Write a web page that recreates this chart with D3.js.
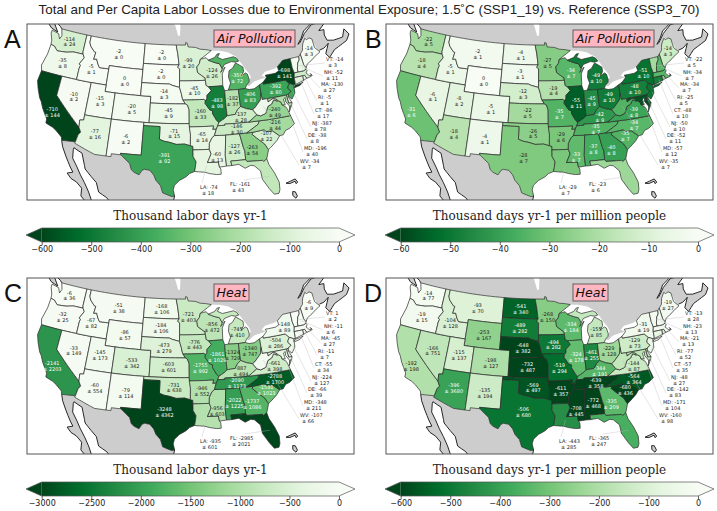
<!DOCTYPE html>
<html><head><meta charset="utf-8">
<script src="https://cdn.jsdelivr.net/npm/d3@7/dist/d3.min.js"></script>
<style>html,body{margin:0;padding:0;background:#fff}svg{display:block}</style>
</head><body><svg id="c" width="717" height="511"></svg>
<script>
const stateCodes = ["WA","OR","CA","NV","ID","MT","WY","UT","CO","AZ","NM","ND","SD","NE","KS","OK","TX","MN","IA","MO","AR","LA","WI","IL","MS","MI","IN","OH","KY","TN","AL","GA","FL","SC","NC","VA","PA","NY","ME","VT","NH","MA","RI","CT","NJ","DE","MD","WV"];
const airTotal =      [-114,-35,-710,-10,-5,-2,0,-15,-20,-77,-6,-2,-2,-14,-45,-71,-391,-99,-45,-160,-65,-74,-124,-483,-60,-350,-182,-406,-137,-146,-127,-263,-161,-107,-216,-240,-392,-698,-14,-14,-52,-130,-5,-86,-387,-38,-196,-34];
const airTotalErr =   [24,8,144,2,1,0,0,3,5,16,2,0,0,3,9,15,92,20,10,33,14,18,26,98,13,72,37,83,28,30,26,54,43,22,44,49,80,141,3,3,11,27,1,17,78,8,40,7];
const airPerCap =     [-22,-18,-31,-6,-5,-2,0,-8,-5,-18,-4,-4,-3,-12,-22,-26,-28,-27,-19,-35,-29,-29,-34,-55,-33,-49,-45,-49,-42,-35,-37,-40,-23,-35,-34,-39,-48,-51,-14,-22,-34,-34,-25,-48,-50,-52,-57,-35];
const airPerCapErr =  [5,4,6,1,1,1,0,2,1,4,1,1,1,3,5,5,7,5,4,7,6,7,7,11,7,10,9,10,9,7,8,8,6,7,7,8,10,10,3,5,7,7,5,10,10,11,12,7];
const heatTotal =     [-6,-32,-2141,-33,-67,-51,-86,-145,-533,-60,-79,-168,-184,-473,-603,-731,-3248,-721,-776,-1755,-946,-935,-856,-1861,-956,-745,-1324,-1340,-887,-2090,-2022,-1737,-2985,-1591,-2788,-661,-504,-148,-6,1,-11,-45,-11,-55,-224,-66,-348,-107];
const heatTotalErr =  [36,25,2203,149,82,38,57,173,342,554,114,106,106,279,601,638,4362,403,443,992,552,601,472,1029,603,410,729,747,494,1173,1225,1086,2021,1023,1700,398,286,89,9,2,6,27,7,34,127,39,211,66];
const heatPerCap =    [-14,-19,-192,-166,-104,-93,-253,-115,-198,-396,-135,-541,-489,-648,-732,-569,-506,-268,-494,-519,-611,-443,-334,-324,-708,-155,-461,-229,-344,-639,-772,-335,-365,-680,-564,-144,-129,-31,-19,-13,-23,-21,-77,-57,-48,-142,-171,-160];
const heatPerCapErr = [77,15,198,751,128,70,167,137,127,3680,194,340,282,382,487,497,680,150,282,294,357,285,184,178,445,85,255,128,191,358,468,209,247,436,364,87,73,19,27,28,13,13,52,35,27,83,104,98];
const totalTicksAir = [-600,-500,-400,-300,-200,-100,0];
const perCapTicksAir = [-60,-50,-40,-30,-20,-10,0];
const totalTicksHeat = [-3000,-2500,-2000,-1500,-1000,-500,0];
const perCapTicksHeat = [-600,-500,-400,-300,-200,-100,0];
const greens = ["#00441b","#006d2c","#238b45","#41ab5d","#74c476","#a1d99b","#c7e9c0","#e5f5e0","#f7fcf5"];
const mainTitle = "Total and Per Capita Labor Losses due to Environmental Exposure; 1.5˚C (SSP1_19) vs. Reference (SSP3_70)";

// state outlines, lon/lat
const stateShapes = {
WA:[[[-124.7,48.4],[-123.1,48.15],[-122.6,47.4],[-122.3,48.0],[-122.75,49],[-117.03,49],[-117.04,46.4],[-116.92,46],[-118.98,46],[-119.3,45.93],[-120.5,45.7],[-121.2,45.65],[-122.3,45.55],[-122.8,45.85],[-123.2,46.15],[-124,46.25],[-124.1,46.9],[-124.7,47.9]]],
OR:[[[-124.55,42.84],[-124.2,42],[-120,42],[-117.03,42],[-117.03,43.8],[-116.9,44.2],[-117.2,44.45],[-116.5,45.5],[-116.92,46],[-118.98,46],[-119.3,45.93],[-120.5,45.7],[-121.2,45.65],[-122.3,45.55],[-122.8,45.85],[-123.2,46.15],[-124,46.25],[-124.07,44.7]]],
CA:[[[-124.2,42],[-120,42],[-120,39],[-114.63,35],[-114.15,34.3],[-114.5,33.9],[-114.72,32.72],[-117.12,32.53],[-117.3,33],[-118.4,33.75],[-119.2,34.15],[-120.6,34.55],[-120.65,35.15],[-121.9,36.6],[-122.5,37.5],[-123,38],[-123.8,39.3],[-124.35,40.4]]],
NV:[[[-120,42],[-114.04,42],[-114.05,36.2],[-114.75,36.1],[-114.63,35],[-120,39]]],
ID:[[[-117.03,49],[-116.05,49],[-116.05,48],[-115.7,47.45],[-114.7,46.7],[-114.35,46.65],[-114.5,45.55],[-113.9,45.65],[-113.45,44.95],[-113,44.45],[-111.05,44.48],[-111.05,42],[-114.04,42],[-117.03,42],[-117.03,43.8],[-116.9,44.2],[-117.2,44.45],[-116.5,45.5],[-116.92,46],[-117.04,46.4]]],
MT:[[[-116.05,49],[-104.05,49],[-104.05,45],[-111.05,45],[-111.05,44.48],[-113,44.45],[-113.45,44.95],[-113.9,45.65],[-114.5,45.55],[-114.35,46.65],[-114.7,46.7],[-115.7,47.45],[-116.05,48]]],
WY:[[[-111.05,45],[-104.05,45],[-104.05,41],[-111.05,41]]],
UT:[[[-114.04,42],[-111.05,42],[-111.05,41],[-109.05,41],[-109.05,37],[-114.05,37]]],
CO:[[[-109.05,41],[-102.05,41],[-102.05,37],[-109.05,37]]],
AZ:[[[-114.05,37],[-109.05,37],[-109.05,31.33],[-111.07,31.33],[-114.8,32.5],[-114.72,32.72],[-114.5,33.9],[-114.15,34.3],[-114.63,35],[-114.75,36.1],[-114.05,36.2]]],
NM:[[[-109.05,37],[-103,37],[-103.04,32],[-106.62,32],[-106.53,31.78],[-108.2,31.78],[-108.2,31.33],[-109.05,31.33]]],
ND:[[[-104.05,49],[-97.23,49],[-96.85,47.6],[-96.56,45.94],[-104.05,45.94]]],
SD:[[[-104.05,45.94],[-96.56,45.94],[-96.85,45.6],[-96.45,45.3],[-96.45,43.5],[-96.45,42.5],[-97.9,42.8],[-98.5,43],[-104.05,43]]],
NE:[[[-104.05,43],[-98.5,43],[-97.9,42.8],[-96.45,42.5],[-96.1,41.6],[-95.85,40.7],[-95.3,40],[-102.05,40],[-102.05,41],[-104.05,41]]],
KS:[[[-102.05,40],[-95.3,40],[-94.9,39.8],[-94.6,39.1],[-94.62,37],[-102.05,37]]],
OK:[[[-103,37],[-94.62,37],[-94.43,35.4],[-94.48,33.64],[-95.5,33.9],[-97,33.85],[-98.1,34.13],[-99.2,34.3],[-100,34.56],[-100,36.5],[-103,36.5]]],
TX:[[[-103.04,36.5],[-100,36.5],[-100,34.56],[-99.2,34.3],[-98.1,34.13],[-97,33.85],[-95.5,33.9],[-94.48,33.64],[-94.04,33.55],[-94.04,33],[-94.04,31.99],[-93.55,31.2],[-93.7,30.3],[-93.85,29.7],[-94.7,29.4],[-95.3,28.9],[-96.4,28.35],[-97.2,27.6],[-97.4,26.9],[-97.15,25.95],[-97.6,25.85],[-98.3,26.1],[-99.1,26.4],[-99.5,27.5],[-100.3,28.3],[-100.7,29.1],[-101.4,29.77],[-102.3,29.88],[-102.7,29.7],[-103.15,28.98],[-104,29.3],[-104.5,29.65],[-104.9,30.6],[-106.53,31.78],[-106.62,32],[-103.04,32]]],
MN:[[[-97.23,49],[-95.15,49],[-95.15,49.38],[-94.8,49.3],[-94.6,48.7],[-93,48.6],[-92,48.3],[-90.8,48.2],[-89.6,48],[-92.05,46.75],[-92.3,46.1],[-92.85,45.6],[-92.75,44.75],[-91.25,43.85],[-91.22,43.5],[-96.45,43.5],[-96.45,45.3],[-96.85,45.6],[-96.56,45.94],[-96.85,47.6]]],
IA:[[[-96.45,43.5],[-91.22,43.5],[-91.1,42.7],[-90.65,42.5],[-90.15,41.9],[-91.05,41.2],[-91.1,40.7],[-91.42,40.38],[-91.73,40.61],[-95.77,40.58],[-95.85,40.7],[-96.1,41.6],[-96.45,42.5]]],
MO:[[[-95.77,40.58],[-91.73,40.61],[-91.42,40.38],[-91.5,40],[-90.7,39],[-90.15,38.8],[-90.2,38.4],[-89.5,37.3],[-89.15,37],[-89.4,36.5],[-89.7,36],[-90.37,36],[-90.15,36.5],[-94.62,36.5],[-94.62,37],[-94.6,39.1],[-94.9,39.8],[-95.3,40]]],
AR:[[[-94.62,36.5],[-90.15,36.5],[-90.37,36],[-89.7,36],[-90.1,35.1],[-90.6,34.7],[-91.1,33.9],[-91.17,33],[-94.04,33],[-94.04,33.55],[-94.48,33.64],[-94.43,35.4]]],
LA:[[[-94.04,33],[-91.17,33],[-90.9,32.3],[-91.6,31],[-89.73,31],[-89.6,30.2],[-89.4,29.9],[-89.4,29.1],[-90.2,29.1],[-91.3,29.3],[-92.2,29.55],[-93.85,29.7],[-93.7,30.3],[-93.55,31.2],[-94.04,31.99]]],
MS:[[[-90.1,35.05],[-88.2,35],[-88.1,34.9],[-88.47,31.9],[-88.4,30.3],[-89.6,30.2],[-89.73,31],[-91.6,31],[-90.9,32.3],[-91.17,33],[-91.1,33.9],[-90.6,34.7]]],
AL:[[[-88.2,35],[-85.6,35],[-85.18,32.87],[-85,32.3],[-85.05,31],[-87.6,31],[-87.5,30.3],[-88.4,30.3],[-88.47,31.9],[-88.1,34.9]]],
TN:[[[-90.1,35.05],[-88.2,35],[-85.6,35],[-84.32,35],[-82,36.1],[-81.68,36.59],[-83.68,36.6],[-86.5,36.65],[-88.07,36.68],[-88.07,36.5],[-89.4,36.5],[-89.7,36]]],
KY:[[[-89.4,36.5],[-88.07,36.5],[-88.07,36.68],[-86.5,36.65],[-83.68,36.6],[-81.97,37.54],[-82.6,38.4],[-83.7,38.65],[-84.8,39.1],[-85.4,38.7],[-86,38],[-87.5,37.9],[-88.1,37.5],[-89.15,37]]],
VA:[[[-83.68,36.6],[-81.68,36.59],[-80,36.55],[-75.87,36.55],[-76,37],[-76.3,37.9],[-77,38.4],[-77.05,38.8],[-77.5,39.1],[-77.83,39.13],[-78.35,39.4],[-78.9,38.8],[-79.65,38.55],[-80.3,37.55],[-81.3,37.3],[-81.97,37.54]],[[-75.65,37.95],[-75.25,38.03],[-75.95,37.15]]],
WV:[[[-82.6,38.4],[-81.97,37.54],[-81.3,37.3],[-80.3,37.55],[-79.65,38.55],[-78.9,38.8],[-78.35,39.4],[-77.83,39.13],[-77.72,39.32],[-78.4,39.62],[-79.48,39.2],[-79.48,39.72],[-80.52,39.72],[-80.52,40.64],[-80.85,39.7],[-81.7,39],[-82.2,38.6]]],
NC:[[[-84.32,35],[-83.1,35],[-81.05,35.15],[-80.8,34.82],[-79.67,34.8],[-78.55,33.86],[-77.9,33.9],[-77.3,34.5],[-76.5,34.7],[-75.5,35.25],[-75.87,36.55],[-80,36.55],[-81.68,36.59],[-82,36.1]]],
SC:[[[-83.1,35],[-81.05,35.15],[-80.8,34.82],[-79.67,34.8],[-78.55,33.86],[-79.2,33.2],[-80.5,32.3],[-80.9,32.05],[-81.4,33],[-82,33.5],[-83.35,34.7]]],
GA:[[[-85.6,35],[-84.32,35],[-83.1,35],[-83.35,34.7],[-82,33.5],[-81.4,33],[-80.9,32.05],[-81.45,30.72],[-82.05,30.36],[-82.2,30.57],[-84.86,30.7],[-85.05,31],[-85,32.3],[-85.18,32.87]]],
FL:[[[-87.6,31],[-85.05,31],[-84.86,30.7],[-82.2,30.57],[-82.05,30.36],[-81.45,30.72],[-81.25,29.8],[-80.55,28.4],[-80.05,26.9],[-80.15,25.75],[-80.4,25.2],[-81.15,25.15],[-81.8,26.1],[-82.7,27.7],[-82.8,29],[-83.7,29.9],[-84.3,30.05],[-85.3,29.7],[-86.3,30.4],[-87.5,30.3]]],
OH:[[[-84.8,39.1],[-83.7,38.65],[-82.6,38.4],[-82.2,38.6],[-81.7,39],[-80.85,39.7],[-80.52,40.64],[-80.52,41.98],[-81.7,41.5],[-82.7,41.5],[-83.45,41.72],[-84.8,41.7]]],
IN:[[[-87.53,41.72],[-86.8,41.76],[-84.8,41.7],[-84.8,39.1],[-85.4,38.7],[-86,38],[-87.5,37.9],[-87.55,39.3]]],
IL:[[[-87.8,42.49],[-90.65,42.5],[-90.15,41.9],[-91.05,41.2],[-91.1,40.7],[-91.42,40.38],[-91.5,40],[-90.7,39],[-90.15,38.8],[-90.2,38.4],[-89.5,37.3],[-89.15,37],[-88.1,37.5],[-87.5,37.9],[-87.55,39.3],[-87.53,41.72]]],
WI:[[[-92.05,46.75],[-90.8,46.95],[-90.4,46.55],[-89,46.1],[-88.1,45.9],[-87.6,45.1],[-88,44.55],[-87,45.3],[-87.7,44.3],[-87.8,42.49],[-90.65,42.5],[-91.1,42.7],[-91.22,43.5],[-91.25,43.85],[-92.75,44.75],[-92.85,45.6],[-92.3,46.1]]],
MI:[[[-90.4,46.55],[-89,46.9],[-88.4,47.4],[-87.9,47.45],[-88.4,46.9],[-87.4,46.5],[-85,46.75],[-84.4,46.5],[-84,46],[-84.75,45.9],[-85.5,46.05],[-86.5,45.85],[-87.1,45.7],[-87.6,45.1],[-88.1,45.9],[-89,46.1]],[[-86.8,41.76],[-84.8,41.7],[-83.45,41.72],[-83.1,42.2],[-82.5,42.6],[-82.4,43],[-82.6,43.85],[-82.95,44.07],[-83.9,43.7],[-83.3,44.3],[-83.3,45],[-84.7,45.78],[-85.5,45],[-86.25,44.7],[-86.5,43.7],[-86.2,42.8]]],
PA:[[[-80.52,41.98],[-79.76,42.27],[-79.76,42],[-75.35,42],[-74.7,41.36],[-75.1,40.95],[-75.2,40.65],[-74.72,40.15],[-75.4,39.8],[-75.79,39.72],[-79.48,39.72],[-80.52,39.72],[-80.52,40.64]]],
NY:[[[-79.76,42.27],[-78.9,42.9],[-79.05,43.27],[-77,43.3],[-76.2,43.55],[-76.3,44.2],[-75,44.98],[-74.7,45],[-73.34,45.01],[-73.4,43.6],[-73.25,42.75],[-73.5,42.05],[-73.55,41.3],[-73.65,41],[-73.9,41],[-74.7,41.36],[-75.35,42],[-79.76,42]],[[-74,40.6],[-73.7,40.88],[-72.6,40.98],[-72,41.1],[-72.8,40.7],[-73.9,40.55]]],
ME:[[[-71.08,45.3],[-70.4,45.8],[-70.25,46.2],[-70,46.7],[-69.23,47.46],[-68.9,47.2],[-68.3,47.35],[-67.8,47.07],[-67.8,45.7],[-67.45,45.3],[-67,44.85],[-68.5,44.3],[-69.1,44],[-70.2,43.6],[-70.7,43.07],[-71,43.6]]],
VT:[[[-73.34,45.01],[-71.5,45.01],[-71.6,44.5],[-72.05,44.1],[-72.45,43.2],[-72.46,42.73],[-73.25,42.75],[-73.4,43.6]]],
NH:[[[-71.5,45.01],[-71.08,45.3],[-71,43.6],[-70.7,43.07],[-70.8,42.87],[-71.3,42.7],[-72.46,42.73],[-72.45,43.2],[-72.05,44.1],[-71.6,44.5]]],
MA:[[[-73.5,42.05],[-73.25,42.75],[-72.46,42.73],[-71.3,42.7],[-70.8,42.87],[-70.65,42.6],[-71,42.3],[-70.6,41.95],[-70.5,41.78],[-70,41.78],[-70.2,42.07],[-69.95,41.7],[-70.6,41.55],[-71.15,41.5],[-71.38,42.02],[-71.8,42.02]]],
RI:[[[-71.8,42.02],[-71.38,42.02],[-71.15,41.5],[-71.85,41.32]]],
CT:[[[-73.5,42.05],[-71.8,42.02],[-71.85,41.32],[-73.65,41],[-73.55,41.3]]],
NJ:[[[-74.7,41.36],[-73.9,41],[-74.05,40.65],[-74,40.4],[-74.1,39.75],[-74.9,38.95],[-75.5,39.5],[-75.4,39.8],[-74.72,40.15],[-75.2,40.65],[-75.1,40.95]]],
DE:[[[-75.79,39.72],[-75.4,39.8],[-75.55,39.45],[-75.05,38.45],[-75.7,38.46]]],
MD:[[[-79.48,39.72],[-75.79,39.72],[-75.7,38.46],[-75.05,38.45],[-75.25,38.03],[-75.65,37.95],[-76.2,38.8],[-76.1,39.4],[-76.5,39.2],[-76.4,38.3],[-77,38.4],[-77.05,38.8],[-77.5,39.1],[-77.83,39.13],[-77.72,39.32],[-78.4,39.62],[-79.48,39.2]]]
};
const canadaLand = [[-122.75,49],[-95.15,49],[-95.15,49.38],[-94.8,49.3],[-94.6,48.7],[-93,48.6],[-92,48.3],[-90.8,48.2],[-89.6,48],[-88,47.9],[-86,47.5],[-85,47],[-84.5,46.8],[-83.6,45.7],[-82.9,44.7],[-82.3,44],[-82,43.3],[-82.4,43],[-82.5,42.6],[-83.1,42.2],[-82.6,42],[-81.5,42.6],[-80,42.8],[-78.9,42.9],[-79.8,43.3],[-79,43.8],[-77,44],[-76.3,44.2],[-75,44.98],[-74.7,45],[-71.5,45.01],[-70.4,45.8],[-70,46.7],[-69.23,47.46],[-67.8,47.07],[-67.45,45.3],[-67,45.1],[-66,45.2],[-64.8,45.7],[-66,44.3],[-65.5,43.6],[-64,44.5],[-61,45.2],[-60,46],[-60.6,47],[-61.5,45.9],[-63.5,45.9],[-64.8,46.2],[-65,47.1],[-64.7,47.9],[-65.8,48],[-64.2,48.8],[-65,49.2],[-67,49.2],[-69,48.2],[-70.5,47],[-71,46.85],[-70,47.6],[-69,48.6],[-67,49.4],[-66,50.2],[-63,50.3],[-60,50.2],[-57,51.5],[-55.5,53],[-55,60],[-135,60],[-130,54],[-128,52],[-125,50],[-123.2,49.3]];
const vancouverIsland = [[-123.4,48.35],[-125,48.7],[-128.3,50.7],[-125.5,50.3]];
const newfoundland = [[-59.3,47.6],[-57,47.6],[-53,46.7],[-52.7,47.6],[-55.5,51.5],[-57.5,50.5]];
const mexicoLand = [[-117.12,32.53],[-114.72,32.72],[-114.8,32.5],[-111.07,31.33],[-109.05,31.33],[-108.2,31.33],[-108.2,31.78],[-106.53,31.78],[-104.9,30.6],[-104.5,29.65],[-104,29.3],[-103.15,28.98],[-102.7,29.7],[-102.3,29.88],[-101.4,29.77],[-100.7,29.1],[-100.3,28.3],[-99.5,27.5],[-99.1,26.4],[-98.3,26.1],[-97.6,25.85],[-97.15,25.95],[-97.6,24],[-97.8,22.3],[-97,20],[-105.5,20],[-106,23],[-108,25],[-109.4,25.7],[-110,27.1],[-111,27.9],[-112.2,28.9],[-112.4,29.4],[-113.2,31.2],[-114.75,31.8],[-114.8,31.5],[-114.6,30.2],[-113.6,29],[-112.8,27.9],[-111.9,26.8],[-111,25.5],[-110.3,24.2],[-109.5,23.2],[-110,22.9],[-112.1,24.7],[-112.2,25.9],[-113.2,26.7],[-114.2,27.1],[-115,27.8],[-114.1,28.1],[-114.7,28.8],[-115.8,30.3],[-116.7,31.6]];
const bahamas = [[[-79,26.55],[-78.2,26.75],[-77.4,26.95],[-77.1,26.4],[-77.4,26.2],[-77.5,26.6],[-78.4,26.4]],[[-78.2,25.1],[-77.8,25],[-77.6,24.3],[-77.9,24],[-78.3,24.5]]];
const lakeWinnipeg = [[-99,53.8],[-97.5,52],[-96.8,50.4],[-96.4,50.5],[-96.3,52],[-97,54]];
const coastLines = [
 [[-122.75,49],[-123.2,49.3],[-125,50],[-128,52],[-130,54]],
 [[-71,46.85],[-70,47.6],[-69,48.6],[-67,49.4],[-66,50.2],[-63,50.3],[-60,50.2],[-57,51.5],[-55.5,53]],
 [[-71,46.85],[-70.5,47],[-69,48.2],[-67,49.2],[-65,49.2],[-64.2,48.8],[-65.8,48],[-64.7,47.9],[-65,47.1],[-64.8,46.2],[-63.5,45.9],[-61.5,45.9],[-60.6,47],[-60,46],[-61,45.2],[-64,44.5],[-65.5,43.6],[-66,44.3],[-64.8,45.7],[-66,45.2],[-67,45.1]],
 [[-117.12,32.53],[-116.7,31.6],[-115.8,30.3],[-114.7,28.8],[-114.1,28.1],[-115,27.8],[-114.2,27.1],[-113.2,26.7],[-112.2,25.9],[-112.1,24.7],[-110,22.9],[-109.5,23.2],[-110.3,24.2],[-111,25.5],[-111.9,26.8],[-112.8,27.9],[-113.6,29],[-114.6,30.2],[-114.8,31.5],[-114.75,31.8],[-113.2,31.2],[-112.4,29.4],[-112.2,28.9],[-111,27.9],[-110,27.1],[-109.4,25.7],[-108,25],[-106,23]],
 [[-97.15,25.95],[-97.6,24],[-97.8,22.3]]
];
const labelSpots = {WA:[-120.4,47.4],OR:[-120.6,44],CA:[-120,36.4],NV:[-116.8,39.4],ID:[-114.6,44],MT:[-109.5,47],WY:[-107.5,43],UT:[-111.7,39.4],CO:[-105.5,38.9],AZ:[-111.6,34.4],NM:[-106,34.3],ND:[-100.3,47.4],SD:[-100.3,44.5],NE:[-99.5,41.4],KS:[-98.5,38.6],OK:[-97.4,35.5],TX:[-99,31.7],MN:[-94.6,46.2],IA:[-93.5,42],MO:[-92.5,38.4],AR:[-92.4,34.9],WI:[-89.8,44.5],IL:[-89.2,40],MS:[-89.9,31.7],MI:[-84.8,43.4],IN:[-86.2,40],OH:[-82.8,40.3],KY:[-85,37.5],TN:[-86,35.8],AL:[-86.8,32.8],GA:[-83.7,32.4],SC:[-80.9,34.1],NC:[-79,35.6],VA:[-78.6,37.5],PA:[-77.6,40.9],NY:[-75.2,43],ME:[-69.2,45.4]};
const sideLabels = {VT:[299,35],NH:[297,48],MA:[294,60],RI:[291,73],CT:[288,86],NJ:[285,99],DE:[281,111],MD:[277,124],WV:[273,137],LA:[173,163],FL:[203,160]};
const sideAnchors = {VT:[-72.4,43.7],NH:[-71.5,43.4],MA:[-71,42.3],RI:[-71.5,41.7],CT:[-72.5,41.6],NJ:[-74.4,40],DE:[-75.5,39],MD:[-76.5,39],WV:[-80.5,38.7],LA:[-91.8,30.5],FL:[-81.4,28]};

const panels = [
 {letter:"A",x:27,y:24,lx:4,tag:"Air Pollution",vals:airTotal,errs:airTotalErr,ticks:totalTicksAir,cbTitle:"Thousand labor days yr-1"},
 {letter:"B",x:386,y:24,lx:365,tag:"Air Pollution",vals:airPerCap,errs:airPerCapErr,ticks:perCapTicksAir,cbTitle:"Thousand days yr-1 per million people"},
 {letter:"C",x:27,y:278,lx:4,tag:"Heat",vals:heatTotal,errs:heatTotalErr,ticks:totalTicksHeat,cbTitle:"Thousand labor days yr-1"},
 {letter:"D",x:386,y:278,lx:364,tag:"Heat",vals:heatPerCap,errs:heatPerCapErr,ticks:perCapTicksHeat,cbTitle:"Thousand days yr-1 per million people"}
];
const boxW=327, boxH=176;
const sans="'Liberation Sans',Arial,sans-serif", dv="'DejaVu Sans',sans-serif", serif="'DejaVu Serif',serif";

const base = d3.geoConicEqualArea().rotate([96,0]).parallels([29.5,45.5]).scale(1).translate([0,0]);
const ctl = {w:base([-117.03,49]), e:base([-67,44.85]), s:base([-97.15,25.95])};
const sx = d3.scaleLinear().domain([ctl.w[0],ctl.e[0]]).range([60,293]);
const sy = d3.scaleLinear().domain([ctl.w[1],ctl.s[1]]).range([11,172]);
const pt = ll => { const q=base(ll); return [sx(q[0]),sy(q[1])]; };
const path = d3.geoPath(d3.geoTransform({point(x,y){const q=pt([x,y]);this.stream.point(q[0],q[1]);}}));
function densify(line,closed){
  const out=[]; const n=line.length; const m=closed?n:n-1;
  for(let i=0;i<m;i++){const a=line[i],b=line[(i+1)%n];const k=Math.max(1,Math.ceil(Math.abs(a[0]-b[0])));
    for(let j=0;j<k;j++) out.push([a[0]+(b[0]-a[0])*j/k,a[1]+(b[1]-a[1])*j/k]);}
  if(closed) out.push(out[0]); else out.push(line[n-1]);
  return out;
}
const poly = rings => ({type:"MultiPolygon",coordinates:rings.map(r=>[densify(r,true)])});
const lines = ls => ({type:"MultiLineString",coordinates:ls.map(l=>densify(l,false))});

const svg=d3.select("#c");
svg.append("defs").append("clipPath").attr("id","mapclip").append("rect").attr("width",boxW).attr("height",boxH);
svg.append("text").attr("x",369).attr("y",14).attr("text-anchor","middle").attr("font-family",sans).attr("font-size",13.4).attr("fill","#222").text(mainTitle);

panels.forEach((p,pi)=>{
  const colorDomain=d3.range(9).map(i=>p.ticks[0]*(1-i/8));
  const color=d3.scaleLinear().domain(colorDomain).range(greens).clamp(true);
  const g=svg.append("g").attr("transform",`translate(${p.x},${p.y})`);
  const map=g.append("g").attr("clip-path","url(#mapclip)");
  const gray="#cdcdcd";
  map.append("path").attr("d",path(poly([canadaLand,mexicoLand,vancouverIsland,newfoundland]))).attr("fill",gray);
  map.append("path").attr("d",path(poly([lakeWinnipeg]))).attr("fill","#fff");
  map.append("path").attr("d",path(lines(coastLines))).attr("fill","none").attr("stroke","#111").attr("stroke-width",0.9);
  map.append("path").attr("d",path(poly([vancouverIsland,...bahamas]))).attr("fill",gray).attr("stroke","#111").attr("stroke-width",0.9);
  map.selectAll("path.st").data(stateCodes).join("path").attr("class","st")
    .attr("d",s=>path(poly(stateShapes[s])))
    .attr("fill",(s,i)=>color(p.vals[i])).attr("stroke","#2a2a2a").attr("stroke-width",0.7).attr("stroke-linejoin","round");
  // leader lines
  const sideKeys=Object.keys(sideLabels);
  map.selectAll("line.ld").data(sideKeys).join("line").attr("class","ld")
    .attr("x1",k=>pt(sideAnchors[k])[0]).attr("y1",k=>pt(sideAnchors[k])[1])
    .attr("x2",k=>sideLabels[k][0]+(k==="LA"?2:(k==="FL"?14:-1))).attr("y2",k=>sideLabels[k][1]+(k==="LA"||k==="FL"?-4:4))
    .attr("stroke","#bbb").attr("stroke-width",0.45).attr("opacity",0.85);
  // labels
  stateCodes.forEach((s,i)=>{
    const v=p.vals[i], e=p.errs[i];
    const t=Math.abs(v/p.ticks[0]);
    if(sideLabels[s]){
      const L=sideLabels[s];
      const tx=g.append("text").attr("font-family",dv).attr("font-size",5).attr("fill","#222");
      tx.append("tspan").attr("x",L[0]).attr("y",L[1]+1.7).text(`${s}: ${v}`);
      tx.append("tspan").attr("x",L[0]+2).attr("y",L[1]+7.6).text(`± ${e}`);
    } else {
      const q=pt(labelSpots[s]);
      const fill=t>=0.5?"#fff":"#222";
      const tx=g.append("text").attr("font-family",dv).attr("font-size",5).attr("text-anchor","middle").attr("fill",fill);
      tx.append("tspan").attr("x",q[0]).attr("y",q[1]-1).text(v);
      tx.append("tspan").attr("x",q[0]).attr("y",q[1]+4.9).text(`± ${e}`);
    }
  });
  // frame
  g.append("rect").attr("width",boxW).attr("height",boxH).attr("fill","none").attr("stroke","#555").attr("stroke-width",1);
  // tag
  const tagX=187, tagW=p.tag==="Heat"?35:81;
  g.append("rect").attr("x",tagX).attr("y",6).attr("width",tagW).attr("height",17).attr("fill","#ffb6c1").attr("stroke","#555").attr("stroke-width",0.9);
  g.append("text").attr("x",tagX+tagW/2).attr("y",19).attr("text-anchor","middle").attr("font-family",dv).attr("font-style","oblique").attr("font-size",12.6).attr("fill","#111").text(p.tag);
  // panel letter
  svg.append("text").attr("x",p.lx).attr("y",p.y+24).attr("font-family",sans).attr("font-size",25).attr("fill","#111").text(p.letter);
  // colorbar title
  svg.append("text").attr("x",p.x+163.5).attr("y",p.y+196).attr("text-anchor","middle").attr("font-family",serif).attr("font-size",12).attr("fill","#222").text(p.cbTitle);
  // colorbar
  const cy=p.y+204, ch=14;
  const cb=svg.append("g").attr("transform",`translate(${p.x},${cy})`);
  const cx=d3.scaleLinear().domain([p.ticks[0],0]).range([14.7,312]);
  const gid=`grad${pi}`;
  const lg=svg.select("defs").append("linearGradient").attr("id",gid);
  greens.forEach((c,i)=>lg.append("stop").attr("offset",`${i/8*100}%`).attr("stop-color",c));
  cb.append("rect").attr("x",cx.range()[0]).attr("width",cx.range()[1]-cx.range()[0]).attr("height",ch).attr("fill",`url(#${gid})`);
  cb.append("path").attr("d",`M${cx.range()[0]},0L-1,${ch/2}L${cx.range()[0]},${ch}Z`).attr("fill",greens[0]);
  cb.append("path").attr("d",`M${cx.range()[1]},0L328,${ch/2}L${cx.range()[1]},${ch}Z`).attr("fill",greens[8]);
  cb.append("path").attr("d",`M${cx.range()[0]},0L-1,${ch/2}L${cx.range()[0]},${ch}L${cx.range()[1]},${ch}L328,${ch/2}L${cx.range()[1]},0Z`).attr("fill","none").attr("stroke","#555").attr("stroke-width",0.7);
  const ax=d3.axisBottom(cx).tickValues(p.ticks).tickSize(3).tickPadding(1.5).tickFormat(d=>String(d).replace("-","−"));
  const ag=cb.append("g").attr("transform",`translate(0,${ch})`).call(ax);
  ag.select(".domain").remove();
  ag.selectAll("text").attr("font-family",dv).attr("font-size",8).attr("fill","#222");
  ag.selectAll("line").attr("stroke","#222").attr("stroke-width",0.7);
});
</script></body></html>
